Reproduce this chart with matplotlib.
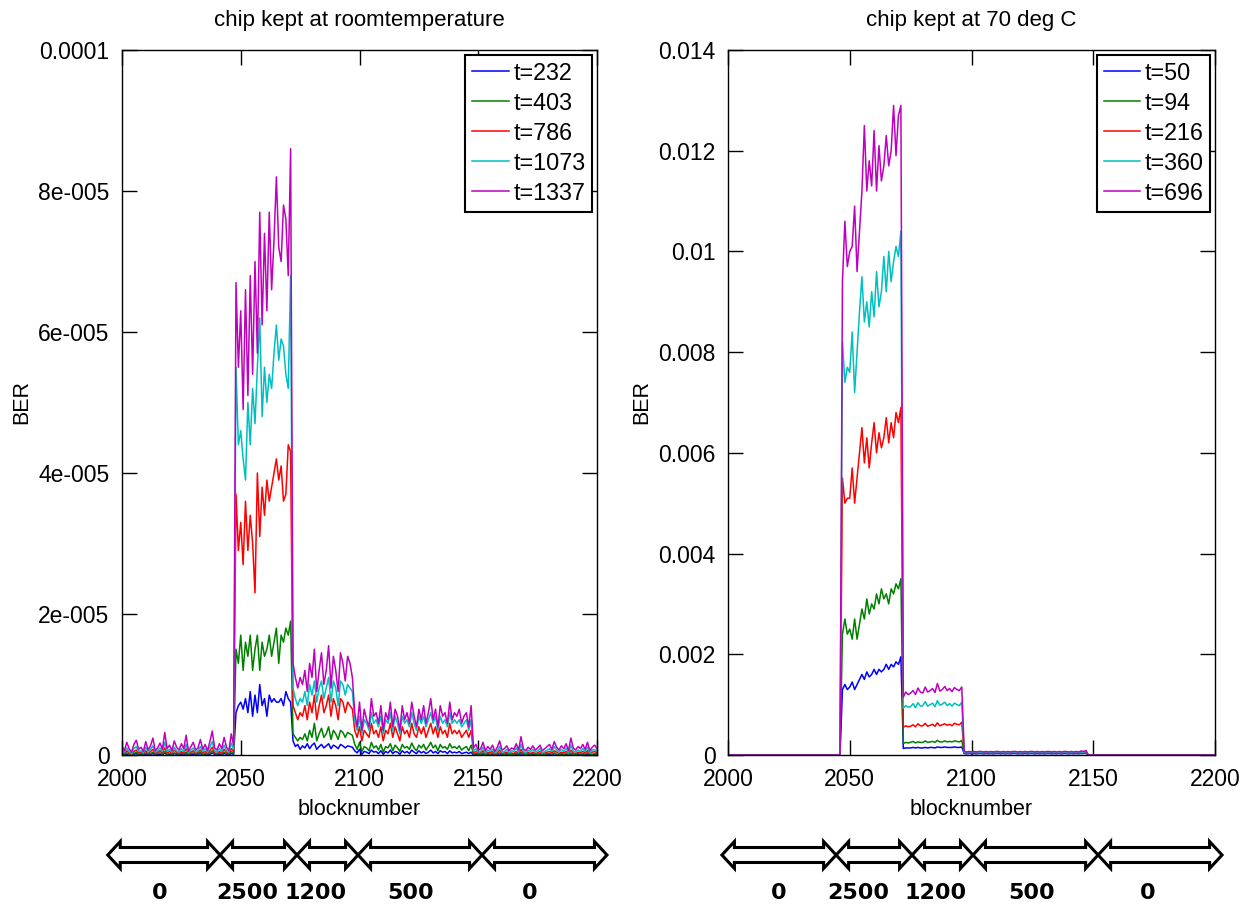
import numpy as np
import matplotlib
matplotlib.use("Agg")
import matplotlib.pyplot as plt
from matplotlib.patches import Polygon
from matplotlib.transforms import blended_transform_factory

plt.rcParams['font.family'] = ['Liberation Sans', 'DejaVu Sans']

# ---------------- left panel: chip kept at room temperature (BER in 1e-6) ----------------
# segments: 2000-2047 | 2048-2071 | 2072-2097 | 2098-2147 | 2148-2200
room_labels = ["t=232", "t=403", "t=786", "t=1073", "t=1337"]

room_t1337 = [
    1.2, 0.6, 1.8, 0.9, 0.4, 1.5, 2.1, 0.8, 1.1, 0.5,
    1.9, 0.7, 1.3, 2.4, 0.6, 1.0, 1.7, 0.8, 3.2, 0.9,
    1.4, 0.6, 2.0, 1.1, 0.7, 1.6, 0.9, 2.8, 0.5, 1.2,
    1.8, 0.7, 1.0, 2.2, 0.8, 1.5, 0.6, 1.9, 3.4, 1.0,
    0.7, 1.6, 0.9, 2.5, 1.1, 0.6, 3.0, 1.4,
    67, 55, 63, 49, 66, 51, 68, 54, 70, 57, 77, 61, 74, 63, 77, 66, 73, 82, 72, 70, 78, 76, 68, 86,
    13, 11, 9.5, 11, 10, 12, 9, 13, 11, 15, 9, 12, 14.5, 10, 12, 15.5, 9.5, 14, 12, 9, 14.5, 13, 10.5, 14, 13, 11,
    6, 4, 7.5, 3.5, 6.5, 5, 4, 8, 5.5, 6, 4.5, 7, 3.5, 6, 5, 7.5, 4, 6.5, 5.5, 3.5,
    7, 5, 6, 4.5, 7.5, 5.5, 4, 6.5, 5, 7, 4.5, 6, 8, 5, 6.5, 4, 7, 5.5, 6, 4.5,
    7.5, 5, 6, 5.5, 6.5, 4.5, 5.5, 6, 4, 7,
    1.0, 1.5, 0.7, 0.9, 1.8, 0.6, 1.2, 0.8, 1.4, 0.5,
    1.1, 2.0, 0.7, 0.9, 1.3, 0.6, 1.0, 0.8, 1.6, 0.7,
    2.6, 0.9, 0.6, 1.1, 0.8, 1.3, 0.7, 1.0, 1.4, 0.6,
    0.9, 1.2, 1.5, 0.8, 1.9, 1.1, 0.7, 1.3, 0.9, 1.6,
    0.6, 2.4, 1.0, 0.7, 1.2, 0.9, 1.5, 0.8, 1.8, 0.6,
    1.1, 1.4, 0.9,
]
room_t1073 = [
    0.7, 0.4, 1.0, 0.5, 0.2, 0.9, 1.2, 0.5, 0.6, 0.3,
    1.1, 0.4, 0.8, 1.3, 0.4, 0.6, 1.0, 0.5, 1.8, 0.5,
    0.8, 0.4, 1.1, 0.6, 0.4, 0.9, 0.5, 1.5, 0.3, 0.7,
    1.0, 0.4, 0.6, 1.2, 0.5, 0.9, 0.4, 1.1, 1.9, 0.6,
    0.4, 0.9, 0.5, 1.4, 0.6, 0.4, 1.7, 0.8,
    55, 44, 46, 42, 39, 50, 44, 52, 47, 55, 62, 48, 55, 50, 54, 52, 57, 61, 56, 59, 58, 54, 52, 68,
    9.5, 8, 7, 8, 7.5, 9, 7, 10, 8.5, 10.5, 7.5, 9.5, 10.5, 8, 9.5, 11, 7.5, 10.5, 9.5, 7, 10.5, 10, 8.5, 10, 9.5, 9,
    5, 3.5, 5.5, 3, 5, 4.5, 3.5, 6, 4.5, 5, 4, 5.5, 3, 5, 4.5, 6, 3.5, 5.5, 4.5, 3,
    5.5, 4.5, 5, 4, 6, 4.5, 3.5, 5.5, 4.5, 5.5, 4, 5, 6, 4.5, 5.5, 3.5, 5.5, 4.5, 5, 4,
    6, 4.5, 5, 4.5, 5, 4, 4.5, 5, 3.5, 5,
    0.6, 0.9, 0.4, 0.5, 1.1, 0.3, 0.7, 0.5, 0.8, 0.3,
    0.6, 1.2, 0.4, 0.5, 0.8, 0.3, 0.6, 0.5, 1.0, 0.4,
    1.5, 0.5, 0.3, 0.7, 0.5, 0.8, 0.4, 0.6, 0.9, 0.3,
    0.5, 0.7, 0.9, 0.5, 1.2, 0.7, 0.4, 0.8, 0.5, 1.0,
    0.3, 1.4, 0.6, 0.4, 0.7, 0.5, 0.9, 0.5, 1.1, 0.3,
    0.7, 0.8, 0.5,
]
room_t786 = [
    0.4, 0.2, 0.6, 0.3, 0.1, 0.5, 0.7, 0.3, 0.4, 0.2,
    0.6, 0.2, 0.5, 0.8, 0.2, 0.4, 0.6, 0.3, 1.0, 0.3,
    0.5, 0.2, 0.7, 0.4, 0.2, 0.5, 0.3, 0.9, 0.2, 0.4,
    0.6, 0.2, 0.4, 0.7, 0.3, 0.5, 0.2, 0.6, 1.1, 0.3,
    0.2, 0.5, 0.3, 0.8, 0.4, 0.2, 0.9, 0.5,
    37, 29, 33, 27, 36, 29, 34, 30, 23, 40, 31, 38, 34, 39, 36, 38, 40, 42, 39, 41, 36, 37, 44, 43,
    7, 6, 5, 6, 5.5, 7, 5, 7.5, 6, 8.5, 5, 7, 8.5, 6, 7, 8.5, 5.5, 8, 7, 5, 8, 7.5, 6, 7.5, 7, 6.5,
    3.5, 2.5, 4, 2, 3.5, 3, 2.5, 4.5, 3, 3.5, 2.5, 4, 2, 3.5, 3, 4.5, 2.5, 4, 3, 2,
    4, 3, 3.5, 2.5, 4.5, 3, 2.5, 4, 3, 4, 2.5, 3.5, 4.5, 3, 4, 2.5, 4, 3, 3.5, 2.5,
    4.5, 3, 3.5, 3, 3.5, 2.5, 3, 3.5, 2.5, 3.5,
    0.3, 0.5, 0.2, 0.3, 0.6, 0.2, 0.4, 0.3, 0.5, 0.1,
    0.3, 0.7, 0.2, 0.3, 0.4, 0.2, 0.3, 0.2, 0.5, 0.2,
    0.8, 0.3, 0.2, 0.4, 0.2, 0.4, 0.2, 0.3, 0.5, 0.2,
    0.3, 0.4, 0.5, 0.3, 0.6, 0.4, 0.2, 0.4, 0.3, 0.5,
    0.2, 0.7, 0.3, 0.2, 0.4, 0.3, 0.5, 0.3, 0.6, 0.2,
    0.4, 0.5, 0.3,
]
room_t403 = [
    0.2, 0.1, 0.3, 0.1, 0.0, 0.2, 0.4, 0.1, 0.2, 0.1,
    0.3, 0.1, 0.2, 0.4, 0.1, 0.2, 0.3, 0.1, 0.5, 0.1,
    0.2, 0.1, 0.3, 0.2, 0.1, 0.3, 0.1, 0.4, 0.0, 0.2,
    0.3, 0.1, 0.2, 0.4, 0.1, 0.2, 0.1, 0.3, 0.6, 0.2,
    0.1, 0.3, 0.1, 0.4, 0.2, 0.1, 0.5, 0.2,
    15, 13, 17, 12, 16, 14, 17, 12, 15, 17, 12, 16, 14, 15, 17, 14, 16, 18, 13, 17, 16, 18, 17, 19,
    3, 2.5, 2, 2.5, 2.2, 3, 2, 3.5, 2.5, 4.5, 2, 3, 3.8, 2.5, 3, 4, 2.2, 3.5, 3, 2.2, 3.5, 3.2, 2.5, 3.2, 3, 2.8,
    1.5, 0.8, 1.8, 0.5, 1.2, 1, 0.6, 1.8, 1, 1.3, 0.7, 1.5, 0.4, 1.2, 1, 1.6, 0.6, 1.4, 1, 0.5,
    1.5, 1, 1.2, 0.8, 1.7, 1, 0.6, 1.4, 1, 1.5, 0.7, 1.2, 1.8, 1, 1.4, 0.6, 1.5, 1, 1.2, 0.8,
    1.6, 1, 1.2, 0.9, 1.3, 0.7, 1, 1.2, 0.6, 1.4,
    0.1, 0.2, 0.1, 0.1, 0.3, 0.0, 0.2, 0.1, 0.2, 0.0,
    0.1, 0.3, 0.1, 0.1, 0.2, 0.0, 0.1, 0.1, 0.2, 0.1,
    0.4, 0.1, 0.0, 0.2, 0.1, 0.2, 0.1, 0.1, 0.2, 0.0,
    0.1, 0.2, 0.2, 0.1, 0.3, 0.1, 0.0, 0.2, 0.1, 0.2,
    0.0, 0.3, 0.1, 0.1, 0.2, 0.1, 0.2, 0.1, 0.3, 0.0,
    0.1, 0.2, 0.1,
]
room_t232 = [
    0.1, 0.0, 0.1, 0.0, 0.0, 0.1, 0.2, 0.0, 0.1, 0.0,
    0.1, 0.0, 0.1, 0.2, 0.0, 0.1, 0.1, 0.0, 0.3, 0.0,
    0.1, 0.0, 0.2, 0.1, 0.0, 0.1, 0.0, 0.2, 0.0, 0.1,
    0.1, 0.0, 0.1, 0.2, 0.0, 0.1, 0.0, 0.1, 0.3, 0.1,
    0.0, 0.1, 0.0, 0.2, 0.1, 0.0, 0.2, 0.1,
    6, 7, 7.5, 6.5, 8, 6, 9, 5.5, 8.5, 6, 10, 7, 8, 5.5, 8.5, 7.5, 8, 7.5, 7.5, 8, 7, 9, 8, 7.5,
    2, 1.2, 1.5, 0.8, 1.3, 1, 1.6, 0.9, 1.4, 1.7, 0.8, 1.2, 1.5, 1, 1.3, 1.6, 0.9, 1.4, 1.2, 0.9, 1.5, 1.3, 1, 1.3, 1.2, 1.1,
    0.6, 0.3, 0.8, 0.1, 0.5, 0.4, 0.2, 0.7, 0.4, 0.5, 0.2, 0.6, 0.1, 0.5, 0.3, 0.7, 0.2, 0.5, 0.4, 0.1,
    0.6, 0.3, 0.5, 0.2, 0.7, 0.4, 0.2, 0.6, 0.3, 0.5, 0.2, 0.4, 0.7, 0.3, 0.5, 0.2, 0.6, 0.4, 0.5, 0.2,
    0.6, 0.3, 0.4, 0.3, 0.5, 0.2, 0.3, 0.4, 0.2, 0.4,
    0.0, 0.1, 0.0, 0.0, 0.1, 0.0, 0.1, 0.0, 0.1, 0.0,
    0.0, 0.2, 0.0, 0.0, 0.1, 0.0, 0.0, 0.0, 0.1, 0.0,
    0.2, 0.0, 0.0, 0.1, 0.0, 0.1, 0.0, 0.0, 0.1, 0.0,
    0.0, 0.1, 0.1, 0.0, 0.2, 0.0, 0.0, 0.1, 0.0, 0.1,
    0.0, 0.2, 0.0, 0.0, 0.1, 0.0, 0.1, 0.0, 0.1, 0.0,
    0.0, 0.1, 0.0,
]

# ---------------- right panel: chip kept at 70 deg C (BER in 1e-4) ----------------
# segments: 2000-2046 | 2047-2071 | 2072-2096 | 2097-2147 | 2148-2200
hot_labels = ["t=50", "t=94", "t=216", "t=360", "t=696"]

hot_t696 = ([0.0] * 47 +
    [94, 106, 97, 100, 101, 109, 96, 104, 112, 125, 112, 118, 113, 124, 112, 121, 114, 117, 123, 117, 120, 129, 119, 127, 129] +
    [11.5, 12.5, 12, 12.3, 12.8, 12, 13.3, 12.5, 12.3, 13.5, 12.5, 12.8, 13.2, 12.4, 14.2, 12.7, 13, 13.6, 12.8, 13.2, 12.6, 13.4, 13, 12.8, 13.5] +
    [0.7, 0.6, 0.7, 0.6, 0.7, 0.6, 0.7, 0.7, 0.6, 0.7, 0.6, 0.7, 0.6, 0.7, 0.7, 0.6, 0.7,
     0.6, 0.7, 0.6, 0.7, 0.7, 0.6, 0.7, 0.6, 0.7, 0.6, 0.7, 0.7, 0.6, 0.7, 0.6, 0.7, 0.6,
     0.7, 0.7, 0.6, 0.7, 0.6, 0.7, 0.6, 0.7, 0.7, 0.6, 0.7, 0.6, 0.7, 0.6, 0.8, 0.7, 0.9] +
    [0.0] * 53)
hot_t360 = ([0.0] * 47 +
    [82, 74, 77, 76, 84, 72, 80, 88, 95, 86, 90, 85, 92, 87, 96, 89, 92, 99, 92, 100, 94, 98, 101, 99, 104] +
    [9.3, 9.8, 9.5, 9.6, 10.2, 9.4, 10.4, 9.7, 9.8, 10.6, 9.7, 10, 10.3, 9.6, 10.8, 9.9, 10.1, 10.5, 9.8, 10.2, 9.7, 10.3, 10, 9.8, 10.5] +
    [0.55, 0.5, 0.55, 0.5, 0.6, 0.5, 0.55, 0.55, 0.5, 0.6, 0.5, 0.55, 0.5, 0.55, 0.6, 0.5, 0.55,
     0.5, 0.55, 0.5, 0.6, 0.55, 0.5, 0.55, 0.5, 0.6, 0.5, 0.55, 0.55, 0.5, 0.6, 0.5, 0.55, 0.5,
     0.55, 0.6, 0.5, 0.55, 0.5, 0.55, 0.5, 0.6, 0.55, 0.5, 0.55, 0.5, 0.6, 0.5, 0.6, 0.55, 0.7] +
    [0.0] * 53)
hot_t216 = ([0.0] * 47 +
    [55, 50, 51, 51, 57, 50, 55, 60, 65, 58, 63, 57, 62, 66, 60, 64, 61, 63, 67, 62, 66, 63, 68, 66, 69] +
    [5.5, 5.8, 5.6, 5.7, 6, 5.6, 6.2, 5.8, 5.8, 6.3, 5.7, 5.9, 6.1, 5.7, 6.4, 5.8, 6, 6.2, 5.9, 6.1, 5.8, 6.3, 6.1, 6, 6.5] +
    [0.45, 0.4, 0.45, 0.4, 0.5, 0.4, 0.45, 0.45, 0.4, 0.5, 0.4, 0.45, 0.4, 0.45, 0.5, 0.4, 0.45,
     0.4, 0.45, 0.4, 0.5, 0.45, 0.4, 0.45, 0.4, 0.5, 0.4, 0.45, 0.45, 0.4, 0.5, 0.4, 0.45, 0.4,
     0.45, 0.5, 0.4, 0.45, 0.4, 0.45, 0.4, 0.5, 0.45, 0.4, 0.45, 0.4, 0.5, 0.4, 0.5, 0.45, 0.55] +
    [0.0] * 53)
hot_t94 = ([0.0] * 47 +
    [24, 27, 24, 25, 23, 27, 23, 26, 29, 27, 31, 28, 30, 29, 32, 30, 33, 31, 32, 30, 33, 32, 34, 33, 35] +
    [2.3, 2.5, 2.4, 2.5, 2.7, 2.4, 2.6, 2.5, 2.5, 2.8, 2.5, 2.6, 2.7, 2.5, 2.9, 2.6, 2.6, 2.8, 2.6, 2.7, 2.6, 2.8, 2.7, 2.6, 2.9] +
    [0.35, 0.3, 0.35, 0.3, 0.4, 0.3, 0.35, 0.35, 0.3, 0.4, 0.3, 0.35, 0.3, 0.35, 0.4, 0.3, 0.35,
     0.3, 0.35, 0.3, 0.4, 0.35, 0.3, 0.35, 0.3, 0.4, 0.3, 0.35, 0.35, 0.3, 0.4, 0.3, 0.35, 0.3,
     0.35, 0.4, 0.3, 0.35, 0.3, 0.35, 0.3, 0.4, 0.35, 0.3, 0.35, 0.3, 0.4, 0.3, 0.4, 0.35, 0.4] +
    [0.0] * 53)
hot_t50 = ([0.0] * 47 +
    [13, 14, 13, 13.5, 14.5, 13, 14, 15, 16, 15, 16.5, 15.5, 16, 17, 16, 17, 16.5, 17, 18, 17, 18, 17.5, 18.5, 18, 19.5] +
    [1.3, 1.4, 1.4, 1.4, 1.5, 1.4, 1.5, 1.4, 1.4, 1.5, 1.4, 1.5, 1.5, 1.4, 1.6, 1.5, 1.5, 1.6, 1.5, 1.5, 1.5, 1.6, 1.5, 1.5, 1.6] +
    [0.3, 0.25, 0.3, 0.25, 0.3, 0.25, 0.3, 0.3, 0.25, 0.3, 0.25, 0.3, 0.25, 0.3, 0.3, 0.25, 0.3,
     0.25, 0.3, 0.25, 0.3, 0.3, 0.25, 0.3, 0.25, 0.3, 0.25, 0.3, 0.3, 0.25, 0.3, 0.25, 0.3, 0.25,
     0.3, 0.3, 0.25, 0.3, 0.25, 0.3, 0.25, 0.3, 0.3, 0.25, 0.3, 0.25, 0.3, 0.25, 0.3, 0.3, 0.35] +
    [0.0] * 53)

colors = ['#0000ff', '#008000', '#ff0000', '#00bfbf', '#bf00bf']

# arrow strip below the plots: segment borders (block numbers) and the labels
room_borders = [1994, 2041.3, 2073.7, 2099.4, 2151.6, 2204.2]
room_text_x = [2016, 2052.6, 2081.5, 2121.5, 2171.8]
hot_borders = [1997.5, 2044.4, 2075.6, 2100.6, 2152, 2202.9]
hot_text_x = [2020.9, 2053.4, 2085.4, 2124.8, 2172.2]
strip_text = ["0", "2500", "1200", "500", "0"]


def panel(ax, series, labels, scale, yticks, yticklabels, title):
    x = np.arange(2000, 2000 + len(series[0]))
    for s, c, l in zip(series, colors, labels):
        ax.plot(x, np.array(s) * scale, color=c, lw=1.1, label=l)
    ax.set_xlim(2000, 2200)
    ax.set_ylim(yticks[0], yticks[-1])
    ax.set_xticks([2000, 2050, 2100, 2150, 2200])
    ax.set_yticks(yticks)
    ax.set_yticklabels(yticklabels)
    ax.tick_params(direction='in', length=10.8, width=1, top=True, right=True,
                   labelsize=16.5, pad=9)
    for sp in ax.spines.values():
        sp.set_linewidth(1.0)
    ax.set_title(title, fontsize=16, pad=17)
    ax.set_xlabel('blocknumber', fontsize=15.5, labelpad=6)
    ax.set_ylabel('BER', fontsize=15.5)
    leg = ax.legend(loc='upper right', fontsize=16.8, fancybox=False, framealpha=1,
                    edgecolor='black', handlelength=1.55, handletextpad=0.2,
                    labelspacing=0.3, borderpad=0.3, borderaxespad=0.2)
    leg.get_frame().set_linewidth(1.5)


def arrow_strip(ax, borders, text_x, px_per_block):
    tr = blended_transform_factory(ax.transData, fig.transFigure)
    yc = 52 / 907
    hs = 7.5 / 907
    hh = 13.5 / 907
    L = 12.5 / px_per_block
    for a, b in zip(borders[:-1], borders[1:]):
        verts = [(a, yc), (a + L, yc + hh), (a + L, yc + hs), (b - L, yc + hs),
                 (b - L, yc + hh), (b, yc), (b - L, yc - hh), (b - L, yc - hs),
                 (a + L, yc - hs), (a + L, yc - hh)]
        p = Polygon(verts, closed=True, transform=tr, facecolor='white',
                    edgecolor='black', lw=2.2, clip_on=False, joinstyle='miter')
        fig.add_artist(p)
    for tx, s in zip(text_x, strip_text):
        fig.text(tx, 14 / 907, s, transform=tr, ha='center', va='center',
                 fontsize=16, fontweight='bold', family='DejaVu Sans')


fig = plt.figure(figsize=(12.45, 9.07), dpi=100)
ax1 = fig.add_axes([122 / 1245, 152 / 907, 475 / 1245, 705 / 907])
ax2 = fig.add_axes([728 / 1245, 152 / 907, 487 / 1245, 705 / 907])

panel(ax1, [room_t232, room_t403, room_t786, room_t1073, room_t1337], room_labels, 1e-6,
      [0, 2e-5, 4e-5, 6e-5, 8e-5, 1e-4],
      ['0', '2e-005', '4e-005', '6e-005', '8e-005', '0.0001'],
      'chip kept at roomtemperature')
panel(ax2, [hot_t50, hot_t94, hot_t216, hot_t360, hot_t696], hot_labels, 1e-4,
      [0, 0.002, 0.004, 0.006, 0.008, 0.01, 0.012, 0.014],
      ['0', '0.002', '0.004', '0.006', '0.008', '0.01', '0.012', '0.014'],
      'chip kept at 70 deg C')

arrow_strip(ax1, room_borders, room_text_x, 475 / 200)
arrow_strip(ax2, hot_borders, hot_text_x, 487 / 200)

fig.savefig('out.png', dpi=100)
